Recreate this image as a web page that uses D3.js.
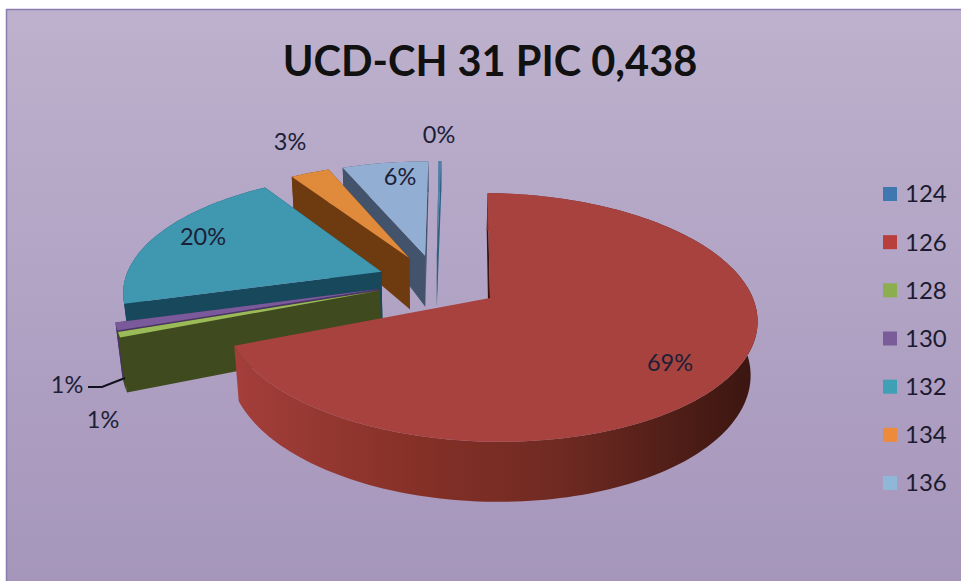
<!DOCTYPE html>
<html>
<head>
<meta charset="utf-8">
<style>
  html, body { margin: 0; padding: 0; background: #fff; }
  text { font-family: Lato, "Open Sans", sans-serif; }
</style>
<script src="https://cdn.jsdelivr.net/npm/d3@7"></script>
</head>
<body>
<div id="chart"></div>
<script>
// Allele shares, in percent
var categories = ["124", "126", "128", "130", "132", "134", "136"];
var shares = [0.2, 68.6, 0.7, 1.0, 20.2, 2.9, 6.4];
var chartTitle = "UCD-CH 31 PIC 0,438";

var topColors = ["#4f81a8", "#a8423f", "#9bbb59", "#7a5a9a", "#3f97b0", "#e08a3c", "#93aed3"];
var wallColors = ["#2f5f80", "#6e2a22", "#3f4a1f", "#4a3566", "#17485c", "#6e3a10", "#42536b"];
var legendColors = ["#3f78b0", "#b83f3c", "#8cae4e", "#7a5c9a", "#3f9fb5", "#ee8a3c", "#8fb8d8"];

// Label spots, same order as categories
var labelSpots = [[439, 135], [670, 363], [103, 420], [67, 385], [203, 237], [290, 142], [400, 177]];

var svgWidth = 961;
var svgHeight = 581;

var svg = d3.select("#chart")
  .append("svg")
  .attr("width", svgWidth)
  .attr("height", svgHeight)
  .style("display", "block");

var defs = svg.append("defs");

var bg = defs.append("linearGradient")
  .attr("id", "bg")
  .attr("x1", 0).attr("y1", 0).attr("x2", 0).attr("y2", 1);
bg.append("stop").attr("offset", "0%").attr("stop-color", "#bdb1cd");
bg.append("stop").attr("offset", "100%").attr("stop-color", "#a595bb");

// Shading along the rim of the big slice
var rim = defs.append("linearGradient")
  .attr("id", "rim")
  .attr("gradientUnits", "userSpaceOnUse")
  .attr("x1", 240).attr("y1", 0).attr("x2", 757).attr("y2", 0);
rim.append("stop").attr("offset", "0%").attr("stop-color", "#a33e3a");
rim.append("stop").attr("offset", "35%").attr("stop-color", "#843027");
rim.append("stop").attr("offset", "62%").attr("stop-color", "#6f2a22");
rim.append("stop").attr("offset", "100%").attr("stop-color", "#3a1510");

svg.append("rect")
  .attr("x", 6.5).attr("y", 9.5)
  .attr("width", svgWidth).attr("height", svgHeight)
  .attr("fill", "url(#bg)")
  .attr("stroke", "#8b7db0")
  .attr("stroke-width", 1.5);

svg.append("text")
  .attr("x", 490).attr("y", 76)
  .attr("text-anchor", "middle")
  .attr("font-size", 41.5)
  .attr("font-weight", 700)
  .attr("fill", "#111")
  .text(chartTitle);

// Perspective view of the tilted disc: unit circle coordinates to the screen
var cx = 436, cy = 281;
var a = 257, b = 116, k = 0.154;
var explode = 0.23;
var bigSliceExplode = 0.25;
var depthAt = d3.scaleLinear().domain([172, 253, 441]).range([33, 51, 60]);

function project(u, v) {
  var s = 1 / (1 + k * v);
  return [cx + a * u * s, cy - b * v * s];
}

function lower(p) {
  var depth = depthAt(p[1]);
  return [p[0] - (p[0] - cx) * depth * 0.0004, p[1] + depth];
}

var line = d3.line();
var first = 0.5 * Math.PI / 180;
var arcs = d3.pie().sort(null).startAngle(first).endAngle(first + 2 * Math.PI)(shares);

var slices = arcs.map(function (d, i) {
  var mid = (d.startAngle + d.endAngle) / 2;
  var pull = i === 1 ? bigSliceExplode : explode;
  var ou = pull * Math.sin(mid);
  var ov = pull * Math.cos(mid);
  var steps = Math.max(2, Math.ceil((d.endAngle - d.startAngle) * 40));
  var edge = d3.range(steps + 1).map(function (j) {
    var t = d.startAngle + (d.endAngle - d.startAngle) * j / steps;
    return project(ou + Math.sin(t), ov + Math.cos(t));
  });
  return { index: i, apex: project(ou, ov), edge: edge };
});

// Painted from the back of the pie to the front
var paintOrder = [0, 6, 5, 4, 3, 2, 1];
var pie = svg.append("g");

paintOrder.forEach(function (i) {
  var s = slices[i];
  var wall = i === 1 ? "url(#rim)" : wallColors[i];

  // the two cut faces; the far one of the big slice stays out of sight
  [s.edge[0], s.edge[s.edge.length - 1]].forEach(function (p, n) {
    if (i === 1 && n === 1) return;
    pie.append("path")
      .attr("d", line([s.apex, p, lower(p), lower(s.apex)]) + "Z")
      .attr("fill", i === 1 ? "#3a1510" : wallColors[i]);
  });

  // outer rim
  pie.append("path")
    .attr("d", line(s.edge.concat(s.edge.map(lower).reverse())) + "Z")
    .attr("fill", wall);

  pie.append("path")
    .attr("d", line([s.apex].concat(s.edge)) + "Z")
    .attr("fill", topColors[i]);
});

// Percent labels
svg.selectAll("text.pct")
  .data(shares)
  .enter()
  .append("text")
  .attr("class", "pct")
  .attr("x", function (d, i) { return labelSpots[i][0]; })
  .attr("y", function (d, i) { return labelSpots[i][1]; })
  .attr("dy", "0.35em")
  .attr("text-anchor", "middle")
  .attr("font-size", 23.5)
  .attr("fill", "#1c2036")
  .text(function (d) { return Math.round(d) + "%"; });

// Leader line for the 130 label
svg.append("path")
  .attr("d", line([[88, 387], [102, 387], [125, 378]]))
  .attr("fill", "none")
  .attr("stroke", "#12121f")
  .attr("stroke-width", 2);

// Legend
var legendY = d3.scalePoint().domain(categories).range([194, 483]);
var legend = svg.selectAll("g.key")
  .data(categories)
  .enter()
  .append("g")
  .attr("class", "key")
  .attr("transform", function (d) { return "translate(883," + legendY(d) + ")"; });

legend.append("rect")
  .attr("x", 0).attr("y", -7)
  .attr("width", 14).attr("height", 14)
  .attr("fill", function (d, i) { return legendColors[i]; });

legend.append("text")
  .attr("x", 22)
  .attr("dy", "0.35em")
  .attr("font-size", 24)
  .attr("fill", "#1c1a30")
  .text(function (d) { return d; });
</script>
</body>
</html>
